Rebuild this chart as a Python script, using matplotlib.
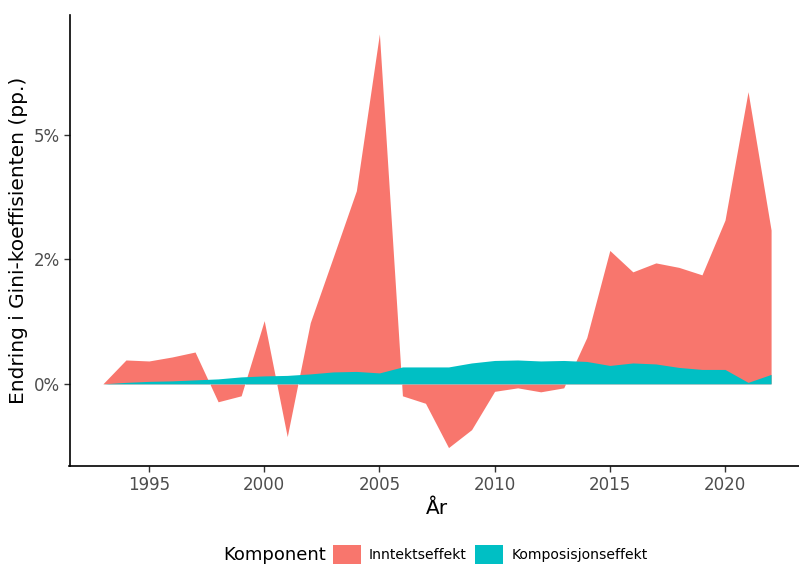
from matplotlib import pyplot as plt
from matplotlib.patches import Patch

# Data (fractions, shown as percent)
years = list(range(1993, 2023))
inntektseffekt = [0.0, 0.0048, 0.0046, 0.0054, 0.0064, -0.0036, -0.0024, 0.0127, -0.0106, 0.0123,
                  0.0255, 0.0388, 0.0703, -0.0024, -0.0039, -0.0128, -0.0092, -0.0015, -0.0008, -0.0016,
                  -0.0008, 0.0093, 0.0268, 0.0225, 0.0243, 0.0234, 0.0219, 0.0329, 0.0587, 0.0309]
komposisjonseffekt = [0.0, 0.0003, 0.0005, 0.0006, 0.0008, 0.0010, 0.0014, 0.0016, 0.0017, 0.0020,
                      0.0024, 0.0025, 0.0022, 0.0034, 0.0034, 0.0034, 0.0042, 0.0047, 0.0048, 0.0046,
                      0.0047, 0.0045, 0.0037, 0.0042, 0.0040, 0.0033, 0.0029, 0.0029, 0.0003, 0.0019]
y_breaks = [0.0, 0.025, 0.05]
x_breaks = [1995, 2000, 2005, 2010, 2015, 2020]
labels = ["Inntektseffekt", "Komposisjonseffekt"]
colors = ["#F8766D", "#00BFC4"]

fig = plt.figure(figsize=(7.99, 5.64), dpi=100)
# panel runs a little past the right edge, like the cropped reference
ax = fig.add_axes([69.5 / 799, 1 - 466 / 564, 735 / 799, 451 / 564])

ax.fill_between(years, 0, inntektseffekt, color=colors[0], linewidth=0)
ax.fill_between(years, 0, komposisjonseffekt, color=colors[1], linewidth=0)

ax.set_ylim(-0.0165, 0.0741)
xpad = (years[-1] - years[0]) * 0.05
ax.set_xlim(years[0] - xpad, years[-1] + xpad)

ax.set_yticks(y_breaks)
ax.set_yticklabels([f"{round(v * 100):.0f}%" for v in y_breaks])
ax.set_xticks(x_breaks)

for side in ["top", "right"]:
    ax.spines[side].set_visible(False)
for side in ["left", "bottom"]:
    ax.spines[side].set_linewidth(1.2)
    ax.spines[side].set_color("black")
ax.tick_params(axis="both", length=4, width=1, color="#333333", labelcolor="#4D4D4D",
               labelsize=12, pad=3)

ax.set_xlabel("År", fontsize=14.5, labelpad=4)
ax.set_ylabel("Endring i Gini-koeffisienten (pp.)", fontsize=14.5, labelpad=4)

handles = [Patch(facecolor=c, edgecolor="none") for c in colors]
leg = fig.legend(handles, labels, loc="lower left", bbox_to_anchor=(327 / 799, -7 / 564),
                 ncol=2, frameon=False, fontsize=10.1, handlelength=2.0, handleheight=1.9,
                 handletextpad=0.6, columnspacing=0.6, borderaxespad=0)
fig.text(223 / 799, 1 - 555 / 564, "Komponent", fontsize=13, va="center", ha="left")

fig.savefig("out.png", dpi=100)
